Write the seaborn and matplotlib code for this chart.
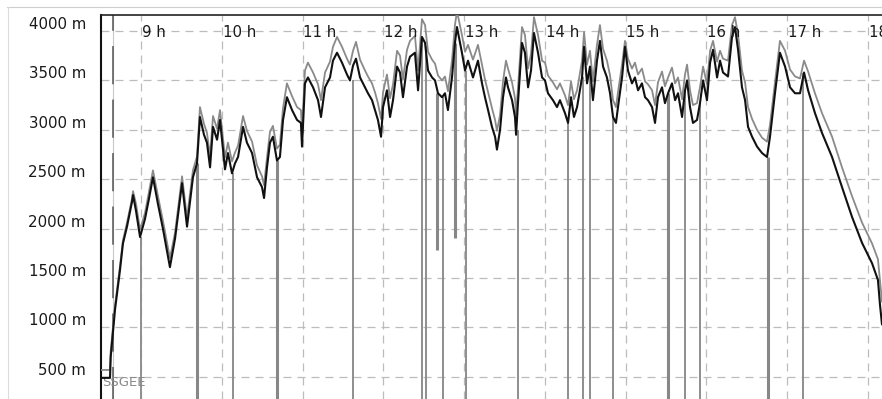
import numpy as np
import pandas as pd
import seaborn as sns
import matplotlib.pyplot as plt
from matplotlib.lines import Line2D
from matplotlib.transforms import blended_transform_factory

# time of day (minutes after midnight) and the two altitude traces (m)
times = [510.3, 517.0, 517.5, 520.7, 524.4, 526.6, 529.6, 533.3, 534.1, 536.3,
         539.3, 543.0, 545.9, 548.9, 552.6, 556.3, 561.5, 565.3, 570.5, 574.2,
         578.6, 581.6, 583.8, 586.8, 589.0, 591.3, 593.5, 596.5, 598.7, 602.4,
         604.6, 607.6, 609.8, 612.1, 615.8, 618.7, 622.5, 626.2, 629.9, 631.4,
         633.6, 635.8, 638.0, 641.0, 643.2, 645.5, 648.4, 652.2, 655.9, 658.8,
         659.6, 661.8, 664.0, 667.8, 671.5, 673.7, 676.7, 680.4, 682.6, 685.6,
         689.3, 693.0, 695.2, 697.5, 699.7, 702.7, 706.4, 708.6, 711.6, 713.8,
         716.0, 718.3, 719.8, 722.7, 725.0, 727.2, 730.2, 732.4, 734.6, 737.6,
         739.8, 743.5, 745.8, 748.7, 751.0, 753.2, 756.2, 758.4, 760.6, 763.6,
         765.8, 768.0, 771.0, 773.2, 774.7, 778.4, 780.7, 782.9, 786.6, 790.3,
         793.3, 795.5, 797.8, 800.7, 803.0, 804.4, 806.7, 808.9, 811.1, 812.6,
         815.6, 817.8, 818.6, 820.0, 823.0, 825.2, 827.5, 829.7, 831.9, 834.9,
         837.9, 840.1, 842.3, 846.0, 849.0, 851.2, 854.9, 857.2, 859.4, 861.6,
         863.9, 867.6, 869.1, 871.3, 873.5, 875.7, 878.7, 880.9, 883.2, 886.1,
         888.4, 890.6, 892.8, 894.3, 897.3, 899.5, 901.7, 904.7, 906.9, 909.2,
         912.1, 914.4, 916.6, 919.6, 921.8, 924.0, 927.0, 929.2, 931.5, 934.4,
         936.7, 938.9, 941.9, 944.1, 945.6, 947.8, 950.0, 953.0, 955.2, 957.5,
         960.4, 962.7, 964.9, 967.9, 970.1, 972.3, 976.0, 979.0, 981.2, 983.5,
         986.4, 988.7, 990.9, 993.9, 997.6, 1001.3, 1005.0, 1007.2, 1010.9, 1014.6,
         1018.4, 1022.1, 1025.8, 1029.5, 1032.5, 1035.5, 1040.6, 1045.8, 1053.3, 1060.7,
         1068.1, 1075.6, 1083.0, 1087.4, 1088.9, 1090.4]

alt_black = [490, 490, 700, 1180, 1580, 1850, 2020, 2270, 2340, 2180,
             1915, 2100, 2300, 2520, 2250, 2000, 1610, 1900, 2460, 2020,
             2520, 2660, 3130, 2950, 2870, 2620, 3030, 2900, 3100, 2600,
             2765, 2560, 2660, 2725, 3030, 2870, 2765, 2520, 2420, 2310,
             2620, 2870, 2930, 2690, 2725, 3100, 3330, 3200, 3100, 3070,
             2830, 3470, 3530, 3430, 3300, 3130, 3430, 3530, 3700, 3780,
             3680, 3560, 3500, 3650, 3720, 3530, 3430, 3370, 3300, 3200,
             3100, 2930, 3230, 3400, 3130, 3300, 3640, 3580, 3330, 3640,
             3740, 3780, 3400, 3940, 3880, 3600, 3530, 3500, 3370, 3330,
             3370, 3200, 3530, 3880, 4040, 3780, 3600, 3700, 3530, 3700,
             3470, 3330, 3200, 3030, 2930, 2800, 3000, 3330, 3530, 3430,
             3300, 3130, 2950, 3270, 3880, 3780, 3430, 3600, 3980, 3780,
             3530, 3500, 3370, 3300, 3230, 3300, 3170, 3070, 3330, 3130,
             3230, 3530, 3840, 3470, 3640, 3300, 3700, 3900, 3640, 3530,
             3370, 3130, 3070, 3230, 3530, 3840, 3600, 3470, 3530, 3400,
             3470, 3330, 3300, 3230, 3070, 3330, 3430, 3270, 3370, 3470,
             3300, 3370, 3130, 3400, 3500, 3230, 3070, 3100, 3270, 3500,
             3300, 3680, 3810, 3530, 3700, 3580, 3540, 3940, 4040, 3810,
             3430, 3300, 3030, 2930, 2830, 2765, 2725, 2930, 3370, 3780,
             3640, 3430, 3370, 3370, 3580, 3400, 3170, 2970, 2725, 2420,
             2120, 1855, 1650, 1480, 1230, 1030]

alt_grey = [570, 570, 760, 1220, 1620, 1880, 2060, 2300, 2380, 2250,
            1990, 2160, 2370, 2590, 2330, 2080, 1700, 1960, 2530, 2110,
            2590, 2730, 3230, 3060, 2970, 2730, 3140, 3010, 3200, 2720,
            2870, 2680, 2770, 2840, 3140, 2990, 2880, 2640, 2530, 2440,
            2720, 2980, 3040, 2810, 2850, 3220, 3470, 3340, 3230, 3200,
            2990, 3600, 3680, 3580, 3460, 3300, 3580, 3690, 3840, 3940,
            3840, 3720, 3660, 3800, 3890, 3710, 3600, 3540, 3470, 3380,
            3270, 3110, 3380, 3560, 3320, 3460, 3800, 3750, 3510, 3810,
            3900, 3950, 3600, 4120, 4060, 3790, 3710, 3670, 3550, 3500,
            3540, 3390, 3700, 4060, 4200, 3960, 3790, 3860, 3710, 3860,
            3660, 3510, 3380, 3220, 3100, 2990, 3150, 3490, 3700, 3620,
            3480, 3320, 3150, 3420, 4040, 3960, 3620, 3770, 4140, 3960,
            3700, 3680, 3550, 3480, 3410, 3470, 3350, 3250, 3490, 3310,
            3400, 3700, 3990, 3660, 3800, 3490, 3860, 4060, 3820, 3700,
            3550, 3300, 3230, 3380, 3660, 3900, 3720, 3620, 3680, 3560,
            3620, 3490, 3460, 3400, 3250, 3480, 3590, 3440, 3530, 3630,
            3470, 3530, 3310, 3560, 3660, 3400, 3250, 3270, 3430, 3640,
            3460, 3800, 3900, 3690, 3800, 3720, 3700, 4060, 4140, 3960,
            3600, 3480, 3230, 3110, 3000, 2920, 2880, 3050, 3480, 3900,
            3800, 3610, 3540, 3520, 3700, 3590, 3370, 3170, 2930, 2620,
            2330, 2060, 1850, 1690, 1480, 1260]

# event markers dropped from the trace (time, top, bottom)
mark_t = [540.0, 608.3, 697.5, 748.7, 751.7, 764.3, 781.4, 820.0, 857.2,
          868.3, 873.5, 890.6, 944.1, 955.2, 1031.7]
mark_top = [1915, 2560, 3500, 3940, 3850, 3330, 3600, 3000, 3070,
            3530, 3640, 3130, 3400, 3270, 3580]
mark_bot = [0, 0, 0, 0, 0, 0, 0, 0, 0, 0, 0, 0, 0, 0, 0]

heavy_t = [581.6, 641.0, 759.9, 773.2, 931.5, 1005.7]
heavy_top = [2660, 2690, 3370, 3880, 3370, 2725]
heavy_bot = [0, 0, 1780, 1910, 0, 0]

start_t = 519.2
hour_ticks = [9, 10, 11, 12, 13, 14, 15, 16, 17, 18]
alt_ticks = [500, 1000, 1500, 2000, 2500, 3000, 3500, 4000]

sns.set_style("white")
plt.rcParams['font.family'] = ['DejaVu Sans']

fig = plt.figure(figsize=(8.82, 3.99), dpi=100)
ax = fig.add_axes([101 / 882, 0, 781 / 882, 384 / 399])

df = pd.DataFrame({'hour': np.array(times) / 60,
                   'black': alt_black, 'grey': alt_grey})

# dashed grid
ax.set_xticks(hour_ticks)
ax.set_yticks(alt_ticks)
ax.grid(True, color='#bcbcbc', linestyle=(0, (6.4, 4.8)), linewidth=0.9, zorder=0)
ax.tick_params(length=0, labelbottom=False, labelleft=False)

# start marker
ax.axvline(start_t / 60, color='#c8c8c8', lw=0.8, zorder=1)
ax.axvline(start_t / 60, color='#555555', lw=1.1, linestyle=(4, (25, 10)), zorder=1)

ax.vlines(np.array(mark_t) / 60, mark_bot, mark_top, color='#8e8e8e', lw=1.4, zorder=2)
ax.vlines(np.array(heavy_t) / 60, heavy_bot, heavy_top, color='#878787', lw=2.2, zorder=2)

sns.lineplot(data=df, x='hour', y='grey', color='#8a8a8a', lw=1.3,
             estimator=None, sort=False, ax=ax, zorder=3)
sns.lineplot(data=df, x='hour', y='black', color='#111111', lw=1.5,
             estimator=None, sort=False, ax=ax, zorder=4)

ax.set_xlim(510.3 / 60, 1090.4 / 60)
ax.set_ylim(276, 4162)
ax.set_xlabel('')
ax.set_ylabel('')

for s in ['right', 'bottom']:
    ax.spines[s].set_visible(False)
ax.spines['left'].set_linewidth(1.5)
ax.spines['left'].set_color('#111111')
ax.spines['top'].set_linewidth(1.2)
ax.spines['top'].set_color('#222222')

# hour labels sit on the top grid line (the last one runs off the edge)
for h in hour_ticks:
    ax.text(h + 0.01, 3940, f'{h} h', ha='left', va='baseline',
            fontsize=10.8, color='#1a1a1a', zorder=5, clip_on=True)

# altitude labels left of the frame, just above their grid line
trans = blended_transform_factory(ax.transAxes, ax.transData)
for a in alt_ticks:
    ax.text(-15 / 781, a + 20, f'{a} m', ha='right', va='baseline',
            fontsize=10.8, color='#1a1a1a', transform=trans, clip_on=False)

# waypoint names at the start
ax.text(0.002, 0.035, 'SSGEE', transform=ax.transAxes,
        fontsize=9.5, color='#8a8a8a', ha='left', va='baseline')

# window border
fig.add_artist(Line2D([7 / 882, 1], [1 - 6.5 / 399, 1 - 6.5 / 399],
                      color='#cfcfcf', lw=0.8, transform=fig.transFigure))
fig.add_artist(Line2D([7.5 / 882, 7.5 / 882], [0, 1 - 6.5 / 399],
                      color='#dcdcdc', lw=0.8, transform=fig.transFigure))

fig.savefig('out.png', dpi=100)
